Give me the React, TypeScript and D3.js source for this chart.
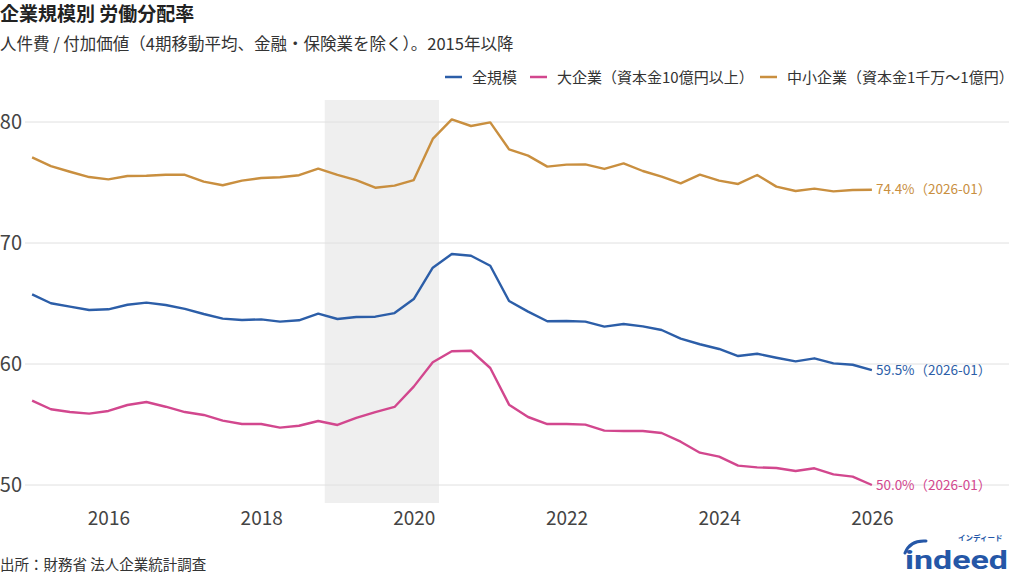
import React, { useEffect, useRef } from "react";
import * as d3 from "d3";

// quarterly, 2015-01 .. 2026-01
const quarters = d3.range(45).map((i) => new Date(2015, i * 3, 1));

const allSizes = [65.76, 65.02, 64.74, 64.46, 64.52, 64.9, 65.07, 64.88, 64.55, 64.13, 63.75, 63.64, 63.69, 63.5, 63.61, 64.16, 63.72, 63.88, 63.91, 64.21, 65.37, 67.96, 69.09, 68.95, 68.12, 65.21, 64.33, 63.53, 63.55, 63.5, 63.09, 63.31, 63.11, 62.81, 62.09, 61.63, 61.24, 60.66, 60.85, 60.52, 60.22, 60.47, 60.05, 59.94, 59.5];
const largeFirms = [56.97, 56.26, 56.03, 55.9, 56.12, 56.61, 56.86, 56.47, 56.03, 55.79, 55.32, 55.04, 55.04, 54.74, 54.9, 55.29, 54.96, 55.54, 56.03, 56.45, 58.13, 60.14, 61.05, 61.1, 59.67, 56.64, 55.62, 55.04, 55.04, 54.99, 54.49, 54.46, 54.46, 54.3, 53.58, 52.67, 52.34, 51.6, 51.46, 51.4, 51.16, 51.38, 50.88, 50.69, 50.0];
const smallFirms = [77.08, 76.36, 75.89, 75.45, 75.26, 75.54, 75.56, 75.64, 75.64, 75.07, 74.77, 75.15, 75.37, 75.43, 75.6, 76.15, 75.63, 75.2, 74.57, 74.74, 75.2, 78.6, 80.22, 79.67, 79.97, 77.74, 77.22, 76.31, 76.48, 76.5, 76.12, 76.58, 75.95, 75.48, 74.93, 75.65, 75.15, 74.88, 75.62, 74.66, 74.3, 74.49, 74.27, 74.38, 74.4];

const seriesNames = ["全規模", "大企業（資本金10億円以上）", "中小企業（資本金1千万〜1億円）"];
const seriesColors = ["#2c5ea8", "#d2478e", "#c98f3f"];
const endLabels = ["59.5%（2026-01）", "50.0%（2026-01）", "74.4%（2026-01）"];

const yTicks = [50, 60, 70, 80];
const xTickYears = [2016, 2018, 2020, 2022, 2024, 2026];
const recession = [new Date(2018, 10, 1), new Date(2020, 4, 1)];

const FONT = "'Noto Sans CJK JP', 'Noto Sans', sans-serif";

const App = () => {
  const svgRef = useRef<SVGSVGElement>(null);

  useEffect(() => {
    const width = 1024;
    const height = 585;
    const svg = d3.select(svgRef.current);
    svg.selectAll("*").remove();
    svg.attr("width", width).attr("height", height).style("font-family", FONT);

    const x = d3.scaleTime()
      .domain([new Date(2014, 10, 28), new Date(2027, 9, 19)])
      .range([25, 1009]);

    const y = d3.scaleLinear().domain([50, 80]).range([485, 122]);

    // recession shading
    svg.append("rect")
      .attr("x", x(recession[0]))
      .attr("y", 100)
      .attr("width", x(recession[1]) - x(recession[0]))
      .attr("height", 403)
      .attr("fill", "#efefef");

    // gridlines
    svg.append("g")
      .selectAll("line")
      .data(yTicks)
      .enter()
      .append("line")
      .attr("x1", 25)
      .attr("x2", 1009)
      .attr("y1", (d) => y(d))
      .attr("y2", (d) => y(d))
      .attr("stroke", "#e0e0e0")
      .attr("stroke-width", 1);

    // y labels
    svg.append("g")
      .selectAll("text")
      .data(yTicks)
      .enter()
      .append("text")
      .attr("x", 22)
      .attr("y", (d) => y(d))
      .attr("dy", "0.35em")
      .attr("text-anchor", "end")
      .style("font-size", "20px")
      .attr("fill", "#444")
      .text((d) => d);

    // x axis
    const xAxis = svg.append("g")
      .attr("transform", "translate(0,505)")
      .call(
        d3.axisBottom(x)
          .tickValues(xTickYears.map((yr) => new Date(yr, 0, 1)))
          .tickSize(0)
          .tickPadding(0)
          .tickFormat((d) => d3.timeFormat("%Y")(d as Date))
      );
    xAxis.select(".domain").remove();
    xAxis.selectAll("text")
      .attr("dy", "0")
      .attr("y", 20)
      .style("font-size", "19px")
      .style("font-family", FONT)
      .attr("fill", "#444");

    const line = d3.line<number>()
      .x((_, i) => x(quarters[i]))
      .y((d) => y(d));

    const series = [allSizes, largeFirms, smallFirms];
    series.forEach((vals, k) => {
      svg.append("path")
        .datum(vals)
        .attr("d", line)
        .attr("fill", "none")
        .attr("stroke", seriesColors[k])
        .attr("stroke-width", 2.4)
        .attr("stroke-linejoin", "round");

      const last = vals.length - 1;
      svg.append("text")
        .attr("x", x(quarters[last]) + 4)
        .attr("y", y(vals[last]))
        .attr("dy", "0.35em")
        .style("font-size", "13.5px")
        .attr("fill", seriesColors[k])
        .text(endLabels[k]);
    });

    // legend
    const legendX = [445, 530, 760];
    const legend = svg.append("g");
    seriesNames.forEach((name, k) => {
      legend.append("line")
        .attr("x1", legendX[k])
        .attr("x2", legendX[k] + 17)
        .attr("y1", 77)
        .attr("y2", 77)
        .attr("stroke", seriesColors[k])
        .attr("stroke-width", 2.5);
      legend.append("text")
        .attr("x", legendX[k] + 27)
        .attr("y", 83)
        .style("font-size", "15px")
        .attr("fill", "#333")
        .text(name);
    });

    // title
    svg.append("text")
      .attr("x", 0)
      .attr("y", 21)
      .style("font-size", "19px")
      .style("font-weight", "bold")
      .attr("fill", "#222")
      .text("企業規模別 労働分配率");

    svg.append("text")
      .attr("x", 0)
      .attr("y", 50)
      .style("font-size", "16.5px")
      .attr("fill", "#333")
      .text("人件費 / 付加価値（4期移動平均、金融・保険業を除く）。2015年以降");

    // source
    svg.append("text")
      .attr("x", 0)
      .attr("y", 570)
      .style("font-size", "14.5px")
      .attr("fill", "#333")
      .text("出所：財務省 法人企業統計調査");

    // logo
    const logo = svg.append("g").attr("fill", "#2557a7");
    logo.append("path")
      .attr("d", "M905,553 Q910,540 926,541")
      .attr("fill", "none")
      .attr("stroke", "#2557a7")
      .attr("stroke-width", 3)
      .attr("stroke-linecap", "round");
    logo.append("text")
      .attr("x", 905)
      .attr("y", 569)
      .attr("textLength", 103)
      .attr("lengthAdjust", "spacingAndGlyphs")
      .style("font-family", "Roboto, 'DejaVu Sans', sans-serif")
      .style("font-size", "26px")
      .style("font-weight", "bold")
      .text("indeed");
    logo.append("text")
      .attr("x", 958)
      .attr("y", 541)
      .style("font-size", "7.5px")
      .style("font-weight", "bold")
      .text("インディード");
  }, []);

  return (
    <div style={{ position: "absolute", left: 0, top: 0, background: "#fff" }}>
      <svg ref={svgRef}></svg>
    </div>
  );
};

export default App;
